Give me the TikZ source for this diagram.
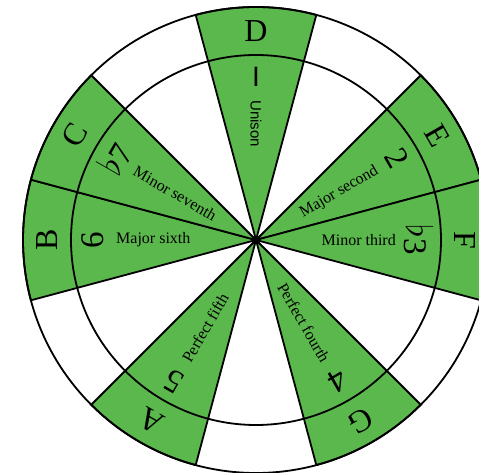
\documentclass[tikz,border=0pt]{standalone}
\usepackage{fontspec}
\setmainfont{Liberation Serif}
\setsansfont{Liberation Sans}
\usepackage{tikz}

\definecolor{leafgreen}{RGB}{91,184,76}
\newcommand{\bigflat}{\raisebox{0.05em}{\scalebox{1.45}{$\flat$}}}

\begin{document}
\begin{tikzpicture}[
    x=1pt, y=1pt,
    sector/.style={draw, line width=1.8pt, fill=leafgreen, line join=round},
    ring/.style={draw, line width=1.8pt},
    notename/.style={font=\fontsize{32}{32}\selectfont, inner sep=0pt},
    stepnum/.style={font=\fontsize{33}{33}\selectfont, inner sep=0pt},
    intname/.style={font=\fontsize{16}{16}\selectfont, inner sep=0pt}
]
\useasboundingbox (-256,-233) rectangle (223,240);

% natural notes
\path[sector] (0,0) -- (75:233) arc[start angle=75, end angle=105, radius=233pt] -- cycle;
\path[sector] (0,0) -- (15:233) arc[start angle=15, end angle=45, radius=233pt] -- cycle;
\path[sector] (0,0) -- (-15:233) arc[start angle=-15, end angle=15, radius=233pt] -- cycle;
\path[sector] (0,0) -- (-75:233) arc[start angle=-75, end angle=-45, radius=233pt] -- cycle;
\path[sector] (0,0) -- (-135:233) arc[start angle=-135, end angle=-105, radius=233pt] -- cycle;
\path[sector] (0,0) -- (165:233) arc[start angle=165, end angle=195, radius=233pt] -- cycle;
\path[sector] (0,0) -- (135:233) arc[start angle=135, end angle=165, radius=233pt] -- cycle;

\path[ring] (0,0) circle[radius=233pt];
\path[ring] (0,0) circle[radius=185pt];

\node[notename] (D) at (90:209) {D};
\node[stepnum, font=\sffamily\fontsize{28}{28}\selectfont] (Dnum) at (90:163) {I};
\node[intname, font=\sffamily\fontsize{15}{15}\selectfont, anchor=west, rotate=270] (Dname) at (90:140) {Unison};

\node[notename, rotate=-60] (E) at (30:209) {E};
\node[stepnum, rotate=-60] (Enum) at (30:163) {2};
\node[intname, anchor=east, rotate=30] (Ename) at (30:140) {Major second};

\node[notename, rotate=-90] (F) at (0:209) {F};
\node[stepnum, rotate=-90] (Fnum) at (0:163) {\bigflat3};
\node[intname, anchor=east] (Fname) at (0:140) {Minor third};

\node[notename, rotate=-150] (G) at (-60:209) {G};
\node[stepnum, rotate=-150] (Gnum) at (-60:163) {4};
\node[intname, anchor=east, rotate=-60] (Gname) at (-60:140) {Perfect fourth};

\node[notename, rotate=150] (A) at (-120:209) {A};
\node[stepnum, rotate=150] (Anum) at (-120:163) {5};
\node[intname, anchor=west, rotate=60] (Aname) at (-120:140) {Perfect fifth};

\node[notename, rotate=90] (B) at (180:209) {B};
\node[stepnum, rotate=90] (Bnum) at (180:163) {6};
\node[intname, anchor=west] (Bname) at (180:140) {Major sixth};

\node[notename, rotate=60] (C) at (150:209) {C};
\node[stepnum, rotate=60] (Cnum) at (150:163) {\bigflat7};
\node[intname, anchor=west, rotate=-30] (Cname) at (150:140) {Minor seventh};

\end{tikzpicture}
\end{document}
